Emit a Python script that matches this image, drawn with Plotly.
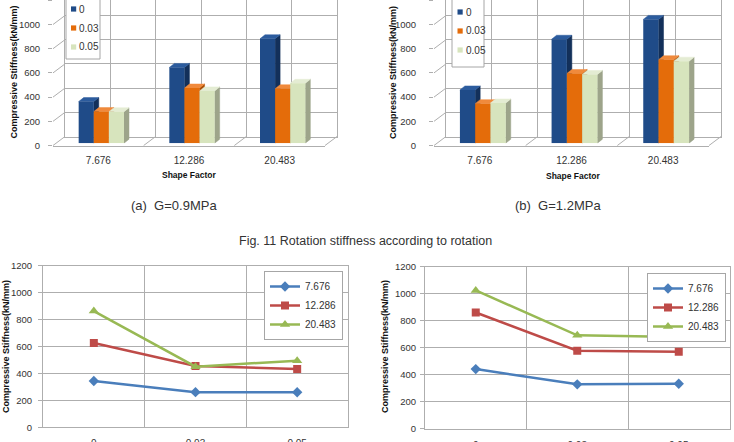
import plotly.graph_objects as go

W, H = 734, 442

shape_factors = ["7.676", "12.286", "20.483"]
rotations = ["0", "0.03", "0.05"]
y_ticks = [0, 200, 400, 600, 800, 1000, 1200]

# (a) G=0.9MPa : compressive stiffness (kN/mm) for each shape factor, one list per rotation
g09_rot_0 = [344, 626, 863]
g09_rot_003 = [261, 456, 450]
g09_rot_005 = [260, 432, 495]
# (b) G=1.2MPa
g12_rot_0 = [440, 859, 1023]
g12_rot_003 = [327, 576, 690]
g12_rot_005 = [332, 568, 678]

bar_front = ["#1F4B88", "#E46C0A", "#D7E4BD"]
bar_side = ["#13305A", "#A84F07", "#9DA48A"]
bar_top = ["#2C5C9E", "#F08A3C", "#E4ECD3"]
line_colors = ["#4A7EBB", "#BE4B48", "#98B954"]
line_symbols = ["diamond", "square", "triangle-up"]
line_sizes = [8, 8, 9]

GRID = "#AEAEAE"
TXT = "#333333"
FONT = "Liberation Sans, Arial, sans-serif"


def fx(p):
    return p / W


def fy(p):
    return 1 - p / H


def refs(i):
    return ("x" if i == 1 else f"x{i}"), ("y" if i == 1 else f"y{i}")


def lkeys(i):
    return ("xaxis" if i == 1 else f"xaxis{i}"), ("yaxis" if i == 1 else f"yaxis{i}")


fig = go.Figure()
layout_axes = {}
shapes = []
annotations = []

HIDDEN = dict(visible=False, showgrid=False, zeroline=False, fixedrange=True, automargin=False)


def bar_chart(base, x0, x1, y0, series, lab_standoff, leg_box, leg_sq_x, leg_txt_x, leg_items_y):
    k = 24.2 / 200.0  # px per data unit
    bdx, bdy = 12, 9  # back wall offset (px)
    odx, ody = 3, 2.3  # bar plane offset (px)
    # back wall
    xk, yk = lkeys(base)
    xr, yr = refs(base)
    layout_axes[xk] = dict(domain=[fx(x0 + bdx), fx(x1 + bdx)], range=[-0.5, 2.5], anchor=yr,
                           tickvals=[-0.5, 0, 0.5, 1, 1.5, 2, 2.5], showticklabels=False,
                           showgrid=True, gridcolor=GRID, gridwidth=1, zeroline=False,
                           showline=True, linecolor=GRID, ticks="", fixedrange=True, automargin=False)
    layout_axes[yk] = dict(domain=[fy(y0 - bdy), 1], range=[0, (y0 - bdy) / k], anchor=xr,
                           tickvals=y_ticks, showticklabels=False, showgrid=True, gridcolor=GRID,
                           zeroline=False, showline=True, mirror=True, linecolor=GRID, ticks="",
                           fixedrange=True, automargin=False)
    fig.add_trace(go.Scatter(x=[None], y=[None], xaxis=xr, yaxis=yr, showlegend=False, hoverinfo="skip"))
    # front axes (tick labels)
    xk2, yk2 = lkeys(base + 1)
    xr2, yr2 = refs(base + 1)
    layout_axes[xk2] = dict(domain=[fx(x0), fx(x1)], range=[-0.5, 2.5], anchor=yr2,
                            tickvals=[0, 1, 2], ticktext=shape_factors, showgrid=False, zeroline=False,
                            showline=True, linecolor=GRID, ticks="", ticklabelstandoff=5,
                            tickfont=dict(size=10, color=TXT, family=FONT), fixedrange=True, automargin=False)
    layout_axes[yk2] = dict(domain=[fy(y0), 1], range=[0, y0 / k], anchor=xr2,
                            tickvals=y_ticks, showgrid=False, zeroline=False, showline=False,
                            ticks="outside", ticklen=4, tickcolor=GRID, ticklabelstandoff=lab_standoff,
                            tickfont=dict(size=9.5, color=TXT, family=FONT), fixedrange=True, automargin=False)
    fig.add_trace(go.Scatter(x=[None], y=[None], xaxis=xr2, yaxis=yr2, showlegend=False, hoverinfo="skip"))
    # bar plane (side/top faces) and overlay (front faces)
    xk3, yk3 = lkeys(base + 2)
    xr3, yr3 = refs(base + 2)
    xk4, yk4 = lkeys(base + 3)
    xr4, yr4 = refs(base + 3)
    ymax = (y0 - ody) / k
    layout_axes[xk3] = dict(domain=[fx(x0 + odx), fx(x1 + odx)], range=[-0.5, 2.5], anchor=yr3, **HIDDEN)
    layout_axes[yk3] = dict(domain=[fy(y0 - ody), 1], range=[0, ymax], anchor=xr3, **HIDDEN)
    layout_axes[xk4] = dict(overlaying=xr3, range=[-0.5, 2.5], anchor=yr4, **HIDDEN)
    layout_axes[yk4] = dict(overlaying=yr3, range=[0, ymax], anchor=xr4, **HIDDEN)

    catw = (x1 - x0) / 3.0
    group = 0.5
    w = group / 3.0
    dx = 5.0 / catw
    dy = 4.0 / k
    cats = [0, 1, 2]
    for j, vals in enumerate(series):
        off = -group / 2 + j * w
        sx, sy, tx, ty = [], [], [], []
        for c, v in zip(cats, vals):
            L = c + off
            R = L + w
            sx += [R, R + dx, R + dx, R, R, None]
            sy += [0, dy, v + dy, v, 0, None]
            tx += [L, R, R + dx, L + dx, L, None]
            ty += [v, v, v + dy, v + dy, v, None]
        fig.add_trace(go.Scatter(x=sx, y=sy, fill="toself", fillcolor=bar_side[j], mode="lines",
                                 line=dict(color=bar_side[j], width=0.5), xaxis=xr3, yaxis=yr3,
                                 showlegend=False, hoverinfo="skip"))
        fig.add_trace(go.Scatter(x=tx, y=ty, fill="toself", fillcolor=bar_top[j], mode="lines",
                                 line=dict(color=bar_top[j], width=0.5), xaxis=xr3, yaxis=yr3,
                                 showlegend=False, hoverinfo="skip"))
        fig.add_trace(go.Bar(x=cats, y=vals, width=w, offset=off, marker=dict(color=bar_front[j], line=dict(width=0)),
                             xaxis=xr4, yaxis=yr4, showlegend=False, name=rotations[j]))
    # left wall diagonals + floor lines
    for t in y_ticks[:-1]:
        yy = y0 - t * k
        shapes.append(dict(type="line", xref="paper", yref="paper", x0=fx(x0), y0=fy(yy),
                           x1=fx(x0 + bdx), y1=fy(yy - bdy), line=dict(color=GRID, width=1), layer="below"))
    for j in (1, 2, 3):
        xx = x0 + catw * j
        shapes.append(dict(type="line", xref="paper", yref="paper", x0=fx(xx), y0=fy(y0),
                           x1=fx(xx + bdx), y1=fy(y0 - bdy), line=dict(color=GRID, width=1), layer="below"))
    # legend (box, keys, labels)
    bx0, by0, bx1, by1 = leg_box
    shapes.append(dict(type="rect", xref="paper", yref="paper", x0=fx(bx0), y0=fy(by0), x1=fx(bx1), y1=fy(by1),
                       line=dict(color="#A6A6A6", width=1), fillcolor="white", layer="above"))
    for j, ly in enumerate(leg_items_y):
        shapes.append(dict(type="rect", xref="paper", yref="paper", x0=fx(leg_sq_x), y0=fy(ly - 2.6),
                           x1=fx(leg_sq_x + 5.2), y1=fy(ly + 2.6), line=dict(width=0),
                           fillcolor=bar_front[j], layer="above"))
        annotations.append(dict(text=rotations[j], x=fx(leg_txt_x), y=fy(ly), xref="paper", yref="paper",
                                xanchor="left", yanchor="middle", showarrow=False,
                                font=dict(size=10, color=TXT, family=FONT)))


bar_chart(1, 53, 325, 145.5, [g09_rot_0, g09_rot_003, g09_rot_005], 6,
          (66, -2, 100, 59), 71, 77, [9, 28, 47])
bar_chart(5, 434, 709, 145.5, [g12_rot_0, g12_rot_003, g12_rot_005], 11,
          (452, -2, 484, 67), 457.5, 463.5, [12, 31, 50])


def line_chart(idx, x0, x1, ytop, ybot, series_by_rot, legend_name, lab_standoff):
    xk, yk = lkeys(idx)
    xr, yr = refs(idx)
    layout_axes[xk] = dict(domain=[fx(x0), fx(x1)], range=[-0.5, 2.5], anchor=yr,
                           tickvals=[0, 1, 2], ticktext=rotations, showgrid=False, zeroline=False,
                           minor=dict(tickvals=[0.5, 1.5], showgrid=True, gridcolor=GRID, ticks=""),
                           showline=True, mirror=True, linecolor=GRID, ticks="", ticklabelstandoff=7,
                           tickfont=dict(size=10, color=TXT, family=FONT), fixedrange=True, automargin=False)
    layout_axes[yk] = dict(domain=[fy(ybot), fy(ytop)], range=[0, 1200], anchor=xr,
                           tickvals=y_ticks, showgrid=True, gridcolor=GRID, zeroline=False,
                           showline=True, mirror=True, linecolor=GRID, ticks="outside", ticklen=4,
                           tickcolor=GRID, ticklabelstandoff=lab_standoff,
                           tickfont=dict(size=9.5, color=TXT, family=FONT), fixedrange=True, automargin=False)
    for i, sf in enumerate(shape_factors):
        vals = [s[i] for s in series_by_rot]
        fig.add_trace(go.Scatter(x=[0, 1, 2], y=vals, mode="lines+markers", name=sf,
                                 line=dict(color=line_colors[i], width=2.5),
                                 marker=dict(symbol=line_symbols[i], size=line_sizes[i], color=line_colors[i]),
                                 xaxis=xr, yaxis=yr, legend=legend_name))


line_chart(9, 43, 348, 265.7, 427.3, [g09_rot_0, g09_rot_003, g09_rot_005], "legend", 4)
line_chart(10, 425, 729.5, 266.5, 428.5, [g12_rot_0, g12_rot_003, g12_rot_005], "legend2", 2)

leg_common = dict(bgcolor="white", bordercolor="#A6A6A6", borderwidth=1,
                  font=dict(size=10, color=TXT, family=FONT), itemclick=False, itemdoubleclick=False)

ytitle = "Compressive Stiffness(kN/mm)"
for (xx, yy) in [(13.5, 72), (393, 73), (6, 347), (385, 347)]:
    annotations.append(dict(text=ytitle, x=fx(xx), y=fy(yy), xref="paper", yref="paper", showarrow=False,
                            xanchor="center", yanchor="middle", textangle=-90,
                            font=dict(size=9, color="#111111", family=FONT, weight="bold")))
for (xx, yy) in [(189, 175), (573, 176)]:
    annotations.append(dict(text="Shape Factor", x=fx(xx), y=fy(yy), xref="paper", yref="paper", showarrow=False,
                            xanchor="center", yanchor="middle",
                            font=dict(size=8.5, color="#111111", family=FONT, weight="bold")))
annotations.append(dict(text="(a)  G=0.9MPa", x=fx(174), y=fy(205), xref="paper", yref="paper", showarrow=False,
                        xanchor="center", yanchor="middle", font=dict(size=13, color=TXT, family=FONT)))
annotations.append(dict(text="(b)  G=1.2MPa", x=fx(558), y=fy(205), xref="paper", yref="paper", showarrow=False,
                        xanchor="center", yanchor="middle", font=dict(size=13, color=TXT, family=FONT)))
annotations.append(dict(text="Fig. 11 Rotation stiffness according to rotation", x=fx(365), y=fy(241.5),
                        xref="paper", yref="paper", showarrow=False, xanchor="center", yanchor="middle",
                        font=dict(size=12.5, color=TXT, family=FONT)))

fig.update_layout(
    width=W, height=H, margin=dict(l=0, r=0, t=0, b=0, pad=0, autoexpand=False),
    paper_bgcolor="white", plot_bgcolor="rgba(0,0,0,0)",
    barmode="overlay", showlegend=True,
    font=dict(family=FONT, color=TXT),
    legend=dict(x=fx(343), y=fy(271), xanchor="right", yanchor="top", **leg_common),
    legend2=dict(x=fx(726), y=fy(273), xanchor="right", yanchor="top", **leg_common),
    shapes=shapes, annotations=annotations,
    **layout_axes,
)

fig.write_html("out.html")
